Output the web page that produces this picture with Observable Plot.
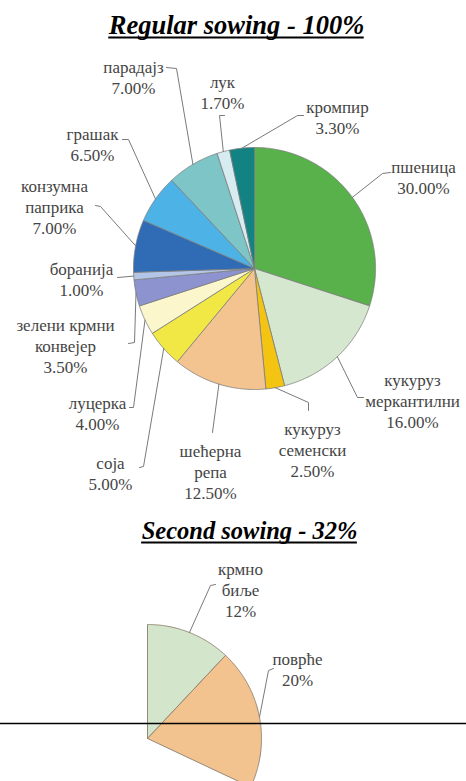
<!DOCTYPE html>
<html><head><meta charset="utf-8">
<script src="https://cdn.jsdelivr.net/npm/d3@7"></script>
<script src="https://cdn.jsdelivr.net/npm/@observablehq/plot@0.6"></script>
<style>
  html,body{margin:0;padding:0;background:#fff}
  #chart svg{display:block}
</style>
</head><body><div id="chart"></div>
<script>
// ---------- DATA ----------
const titles = ["Regular sowing - 100%", "Second sowing - 32%"];

const regularCrops = ["пшеница","кукуруз меркантилни","кукуруз семенски","шећерна репа","соја","луцерка","зелени крмни конвејер","боранија","конзумна паприка","грашак","парадајз","лук","кромпир"];
const regularLabelText = ["пшеница","кукуруз\nмеркантилни","кукуруз\nсеменски","шећерна\nрепа","соја","луцерка","зелени крмни\nконвејер","боранија","конзумна\nпаприка","грашак","парадајз","лук","кромпир"];
const regularShares = [30, 16, 2.5, 12.5, 5, 4, 3.5, 1, 7, 6.5, 7, 1.7, 3.3];
const regularColors = ["#58b14a","#d5e8cf","#f4c412","#f4c490","#f2e845","#fbf6cc","#8c93cf","#b3c6e8","#2f6cb5","#4db3e6","#7dc5c7","#d6ecf0","#138283"];

const secondCrops = ["крмно биље","поврће"];
const secondLabelText = ["крмно\nбиље","поврће"];
const secondShares = [12, 20];
const secondColors = ["#d3e6cc","#f2c28f"];

// ---------- LAYOUT ----------
const W = 466, H = 781;
const SERIF = '"Liberation Serif", "DejaVu Serif", serif';
const pie1 = {cx: 254, cy: 268, r: 121, total: 100};
const pie2 = {cx: 147, cy: 738, r: 114, total: 100};
const regularLabelLayout = [
  {x: 423, y: 176, path: [[382,173],[390,172]]},
  {x: 412, y: 400, path: [[357,397],[363,397]]},
  {x: 312, y: 449, path: [[308,402],[308,410]]},
  {x: 210, y: 471, path: [[212,432]]},
  {x: 110, y: 472, path: [[143,466],[139,467]]},
  {x: 97,  y: 412, path: [[133,407],[129,407]]},
  {x: 65,  y: 345, path: [[134,342],[128,343]]},
  {x: 81,  y: 278, path: [[117,277]]},
  {x: 54,  y: 206, path: [[100,206],[95,205]]},
  {x: 92,  y: 143, path: [[128,139],[122,139]]},
  {x: 133, y: 76,  path: [[176,68],[166,67]]},
  {x: 222, y: 91,  path: [[219,115],[224,115]]},
  {x: 337, y: 116, path: [[297,115],[303,115]]}
];
const secondLabelLayout = [
  {x: 240, y: 589, path: [[210,585],[215,584]]},
  {x: 297, y: 668, path: [[268,670],[273,668]]}
];
const titleLayout = [
  {x: 236, base: 33, size: 26.5},
  {x: 249, base: 538, size: 24.5}
];

// ---------- BUILD ----------
function slices(shares, pie) {
  let acc = 0;
  return shares.map((v, i) => {
    const a0 = acc / pie.total * 2 * Math.PI; acc += v;
    const a1 = acc / pie.total * 2 * Math.PI;
    const n = Math.max(2, Math.ceil((a1 - a0) / (Math.PI / 360)));
    const pts = [[pie.cx, pie.cy]];
    for (let k = 0; k <= n; k++) {
      const a = a0 + (a1 - a0) * k / n;
      pts.push([pie.cx + pie.r * Math.sin(a), pie.cy - pie.r * Math.cos(a)]);
    }
    pts.push([pie.cx, pie.cy]);
    const m = (a0 + a1) / 2;
    return {i, pts, edge: [pie.cx + pie.r * Math.sin(m), pie.cy - pie.r * Math.cos(m)]};
  });
}

const s1 = slices(regularShares, pie1);
const s2 = slices(secondShares, pie2);

const marks = [];
s1.forEach(s => marks.push(Plot.line(s.pts, {x: d => d[0], y: d => d[1], fill: regularColors[s.i], stroke: "#7d7d7d", strokeWidth: 0.8, strokeLinejoin: "round"})));
s2.forEach(s => marks.push(Plot.line(s.pts, {x: d => d[0], y: d => d[1], fill: secondColors[s.i], stroke: "#958878", strokeWidth: 1, strokeLinejoin: "round"})));

const leaders = [];
s1.forEach(s => [s.edge, ...regularLabelLayout[s.i].path].forEach(p => leaders.push({k: "a" + s.i, x: p[0], y: p[1]})));
s2.forEach(s => [s.edge, ...secondLabelLayout[s.i].path].forEach(p => leaders.push({k: "b" + s.i, x: p[0], y: p[1]})));
marks.push(Plot.line(leaders, {x: "x", y: "y", z: "k", stroke: "#7a7a7a", strokeWidth: 1}));

const labels1 = regularShares.map((v, i) => ({x: regularLabelLayout[i].x, y: regularLabelLayout[i].y, t: regularLabelText[i] + "\n" + v.toFixed(2) + "%"}));
const labels2 = secondShares.map((v, i) => ({x: secondLabelLayout[i].x, y: secondLabelLayout[i].y, t: secondLabelText[i] + "\n" + v + "%"}));
const labelOpts = {x: "x", y: "y", text: "t", fontSize: 17, lineHeight: 1.22, fontFamily: SERIF, fill: "#454545", textAnchor: "middle"};
marks.push(Plot.text(labels1, labelOpts));
marks.push(Plot.text(labels2, labelOpts));

// separator line
marks.push(Plot.ruleY([723], {stroke: "#000", strokeWidth: 1.5}));

// titles with underline
const ctx = document.createElement("canvas").getContext("2d");
titles.forEach((t, i) => {
  const L = titleLayout[i];
  ctx.font = `italic bold ${L.size}px ${SERIF}`;
  const w = ctx.measureText(t).width;
  marks.push(Plot.text([t], {x: L.x, y: L.base, text: d => d, fontSize: L.size, fontWeight: "bold", fontStyle: "italic", fontFamily: SERIF, fill: "#000", lineAnchor: "bottom", dy: 0}));
  marks.push(Plot.ruleY([L.base + 4], {x1: L.x - w / 2, x2: L.x + w / 2, stroke: "#000", strokeWidth: 2}));
});

const chart = Plot.plot({
  width: W, height: H,
  margin: 0,
  x: {domain: [0, W], range: [0, W], axis: null},
  y: {domain: [0, H], range: [0, H], axis: null},
  style: {background: "#fff", overflow: "hidden"},
  marks
});
document.getElementById("chart").appendChild(chart);
</script>
</body></html>
